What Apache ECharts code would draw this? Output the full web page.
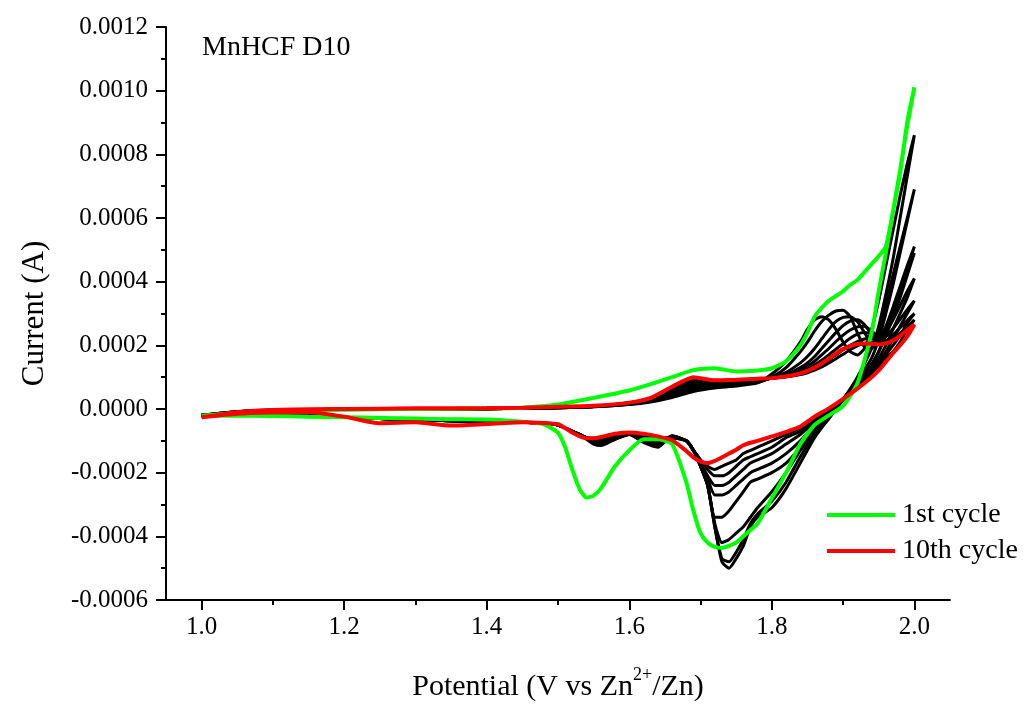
<!DOCTYPE html>
<html><head><meta charset="utf-8">
<script src="https://cdn.jsdelivr.net/npm/echarts@6/dist/echarts.min.js"></script>
<style>html,body{margin:0;padding:0;background:#fff}#c{width:1029px;height:707px}</style>
</head><body><div id="c"></div>
<script>
// Potential grids (V vs Zn2+/Zn)
const anodicV = [1.00,1.05,1.10,1.20,1.30,1.40,1.45,1.50,1.55,1.60,1.63,1.66,1.69,1.72,1.75,1.78,
  1.80,1.82,1.84,1.85,1.86,1.87,1.88,1.89,1.90,1.91,1.92,1.93,1.94,1.95,1.96,1.97,1.98,1.99,2.00];
const cathodicV = [2.00,1.99,1.98,1.97,1.96,1.95,1.94,1.92,1.90,1.88,1.86,1.84,1.82,1.80,1.78,1.77,1.76,1.75,1.74,1.73,
  1.72,1.71,1.70,1.69,1.68,1.66,1.64,1.62,1.60,1.58,1.56,1.55,1.54,1.53,1.52,1.51,1.50,1.48,1.45,1.40,1.35,1.30,1.25,1.20,1.15,1.10,1.05,1.00];

// 1st cycle (green)
const cycle1Anodic = [-0.000021,-0.000012,-0.000006,-0.000002,0.000000,0.000002,0.000004,0.000014,0.000035,0.000058,0.000078,0.000100,0.000122,0.000128,0.000118,0.000121,
  0.000128,0.000150,0.000200,0.000240,0.000290,0.000318,0.000340,0.000355,0.000370,0.000390,0.000405,0.000430,0.000455,0.000480,0.000510,0.000620,0.000740,0.000900,0.001010];
const cycle1Cathodic = [0.001010,0.000890,0.000750,0.000620,0.000490,0.000370,0.000240,0.000080,0.000010,-0.000020,-0.000050,-0.000110,-0.000200,-0.000280,-0.000360,-0.000380,-0.000400,-0.000420,-0.000430,-0.000436,
  -0.000433,-0.000420,-0.000390,-0.000320,-0.000230,-0.000110,-0.000095,-0.000095,-0.000130,-0.000180,-0.000250,-0.000272,-0.000278,-0.000250,-0.000190,-0.000120,-0.000075,-0.000048,-0.000040,-0.000033,-0.000032,-0.000030,-0.000028,-0.000026,-0.000024,-0.000022,-0.000021,-0.000021];

// 10th cycle (red)
const cycle10Anodic = [-0.000026,-0.000010,-0.000003,0.000000,0.000002,0.000003,0.000004,0.000007,0.000010,0.000020,0.000035,0.000070,0.000100,0.000090,0.000092,0.000095,
  0.000097,0.000102,0.000112,0.000120,0.000130,0.000143,0.000158,0.000175,0.000188,0.000198,0.000204,0.000206,0.000205,0.000203,0.000206,0.000215,0.000230,0.000248,0.000265];
const cycle10Cathodic = [0.000265,0.000228,0.000200,0.000175,0.000148,0.000121,0.000100,0.000064,0.000032,0.000002,-0.000024,-0.000055,-0.000072,-0.000086,-0.000100,-0.000106,-0.000114,-0.000128,-0.000140,-0.000152,
  -0.000163,-0.000170,-0.000165,-0.000152,-0.000132,-0.000098,-0.000086,-0.000078,-0.000074,-0.000078,-0.000088,-0.000092,-0.000092,-0.000085,-0.000074,-0.000060,-0.000048,-0.000044,-0.000042,-0.000047,-0.000052,-0.000042,-0.000045,-0.000024,-0.000010,-0.000011,-0.000015,-0.000026];

// cycles 2-9 (black)
const cycle2Anodic = [-0.000020,-0.000008,-0.000004,-0.000001,0.000000,0.000001,0.000002,0.000004,0.000007,0.000014,0.000022,0.000036,0.000055,0.000066,0.000072,0.000082,
  0.000110,0.000150,0.000210,0.000250,0.000280,0.000290,0.000280,0.000250,0.000210,0.000180,0.000170,0.000190,0.000250,0.000340,0.000450,0.000560,0.000670,0.000770,0.000860];
const cycle3Anodic = [-0.000020,-0.000009,-0.000004,-0.000001,0.000000,0.000001,0.000002,0.000004,0.000007,0.000015,0.000024,0.000040,0.000060,0.000069,0.000075,0.000084,
  0.000100,0.000130,0.000180,0.000210,0.000245,0.000275,0.000295,0.000308,0.000310,0.000290,0.000240,0.000195,0.000190,0.000240,0.000330,0.000420,0.000510,0.000600,0.000690];
const cycle4Anodic = [-0.000020,-0.000009,-0.000004,-0.000001,0.000000,0.000001,0.000002,0.000004,0.000008,0.000016,0.000026,0.000044,0.000066,0.000072,0.000078,0.000086,
  0.000098,0.000115,0.000145,0.000165,0.000190,0.000220,0.000250,0.000275,0.000288,0.000290,0.000275,0.000240,0.000210,0.000215,0.000260,0.000320,0.000385,0.000450,0.000510];
const cycle5Anodic = [-0.000021,-0.000009,-0.000004,-0.000001,0.000000,0.000001,0.000002,0.000004,0.000008,0.000017,0.000028,0.000048,0.000072,0.000075,0.000080,0.000087,
  0.000097,0.000108,0.000130,0.000145,0.000165,0.000190,0.000215,0.000240,0.000262,0.000276,0.000280,0.000265,0.000235,0.000220,0.000250,0.000305,0.000365,0.000430,0.000490];
const cycle6Anodic = [-0.000021,-0.000010,-0.000004,-0.000001,0.000000,0.000001,0.000002,0.000004,0.000008,0.000018,0.000030,0.000052,0.000078,0.000078,0.000082,0.000088,
  0.000097,0.000105,0.000122,0.000135,0.000150,0.000170,0.000190,0.000212,0.000232,0.000248,0.000258,0.000260,0.000245,0.000228,0.000240,0.000280,0.000325,0.000370,0.000410];
const cycle7Anodic = [-0.000022,-0.000010,-0.000004,-0.000001,0.000000,0.000001,0.000002,0.000005,0.000009,0.000018,0.000031,0.000056,0.000082,0.000080,0.000083,0.000089,
  0.000097,0.000103,0.000115,0.000125,0.000138,0.000153,0.000170,0.000188,0.000205,0.000222,0.000235,0.000240,0.000235,0.000222,0.000228,0.000252,0.000282,0.000312,0.000340];
const cycle8Anodic = [-0.000022,-0.000010,-0.000004,-0.000001,0.000000,0.000001,0.000002,0.000005,0.000009,0.000019,0.000033,0.000060,0.000086,0.000083,0.000085,0.000090,
  0.000097,0.000102,0.000110,0.000118,0.000128,0.000140,0.000155,0.000170,0.000186,0.000200,0.000212,0.000220,0.000222,0.000215,0.000215,0.000232,0.000255,0.000278,0.000300];
const cycle9Anodic = [-0.000023,-0.000010,-0.000004,-0.000001,0.000000,0.000001,0.000002,0.000005,0.000009,0.000020,0.000034,0.000064,0.000090,0.000086,0.000087,0.000092,
  0.000097,0.000101,0.000108,0.000114,0.000122,0.000132,0.000145,0.000158,0.000172,0.000186,0.000198,0.000206,0.000210,0.000208,0.000208,0.000220,0.000238,0.000258,0.000280];

// cathodic branches 2.00 -> 1.54 V
const cycle2Cathodic = [0.00086,0.00073,0.00060,0.00047,0.00036,0.00026,0.00019,0.00010,0.00003,-0.00003,-0.00009,-0.00017,-0.00025,-0.00031,-0.00034,-0.00037,-0.00043,-0.00047,-0.00050,-0.00048,
  -0.00037,-0.00024,-0.00018,-0.00013,-0.00010,-0.000085,-0.00012,-0.000105,-0.00008,-0.000095,-0.000115,-0.00011,-0.000095];
const cycle3Cathodic = [0.00069,0.00059,0.00049,0.00039,0.00030,0.00022,0.00016,0.00009,0.00003,-0.00003,-0.00008,-0.00015,-0.00023,-0.00029,-0.00033,-0.00036,-0.00041,-0.00045,-0.00048,-0.00047,
  -0.00037,-0.00024,-0.00018,-0.00013,-0.00010,-0.000085,-0.000118,-0.00010,-0.00008,-0.000095,-0.00011,-0.000105,-0.000092];
const cycle4Cathodic = [0.00051,0.00044,0.00037,0.00030,0.00024,0.00018,0.00014,0.00008,0.00003,-0.00002,-0.00007,-0.00013,-0.00020,-0.00026,-0.00031,-0.00034,-0.00037,-0.00039,-0.00041,-0.00042,
  -0.00036,-0.00024,-0.00018,-0.00013,-0.00010,-0.000085,-0.000112,-0.000095,-0.000078,-0.00009,-0.000105,-0.00010,-0.00009];
const cycle5Cathodic = [0.00049,0.00042,0.00035,0.00029,0.00023,0.00018,0.00014,0.00008,0.00003,-0.00002,-0.00006,-0.00012,-0.00017,-0.00020,-0.00022,-0.00023,-0.00026,-0.00029,-0.00032,-0.00034,
  -0.00034,-0.00024,-0.00018,-0.00013,-0.00010,-0.000085,-0.000105,-0.00009,-0.000077,-0.000088,-0.00010,-0.000098,-0.00009];
const cycle6Cathodic = [0.00041,0.00035,0.00030,0.00025,0.00020,0.00016,0.00013,0.000075,0.00003,-0.00001,-0.00005,-0.00010,-0.00014,-0.00017,-0.00019,-0.00020,-0.00022,-0.00024,-0.00026,-0.00027,
  -0.00027,-0.00022,-0.00017,-0.00013,-0.00010,-0.000088,-0.00010,-0.000088,-0.000076,-0.000085,-0.000097,-0.000096,-0.00009];
const cycle7Cathodic = [0.00034,0.00030,0.00026,0.00022,0.00018,0.00015,0.00012,0.00007,0.00003,-0.00001,-0.00004,-0.00008,-0.00011,-0.00014,-0.00016,-0.00017,-0.00019,-0.00021,-0.00023,-0.00024,
  -0.00024,-0.00021,-0.00017,-0.00013,-0.00010,-0.00009,-0.000096,-0.000085,-0.000075,-0.000082,-0.000095,-0.000094,-0.00009];
const cycle8Cathodic = [0.00030,0.00027,0.00023,0.00020,0.00017,0.00014,0.00011,0.00007,0.00003,-0.000005,-0.00003,-0.00007,-0.00009,-0.00012,-0.00014,-0.00015,-0.00016,-0.00018,-0.00020,-0.00021,
  -0.00021,-0.00019,-0.00016,-0.00013,-0.00010,-0.00009,-0.000093,-0.000082,-0.000075,-0.00008,-0.000092,-0.000093,-0.00009];
const cycle9Cathodic = [0.00028,0.00025,0.00021,0.00018,0.00016,0.00013,0.00011,0.00007,0.00003,0.00000,-0.00003,-0.00006,-0.00008,-0.00010,-0.00012,-0.00013,-0.00014,-0.00016,-0.00017,-0.00018,
  -0.00019,-0.00018,-0.00016,-0.00013,-0.00010,-0.00009,-0.00009,-0.00008,-0.000075,-0.000079,-0.00009,-0.000092,-0.00009];
// shared low-potential tail of the black cathodic branches, 1.53 -> 1.00 V
const blackCathodicTail = [-0.00008,-0.00007,-0.00006,-0.00005,-0.000045,-0.000042,-0.00004,-0.000037,-0.000034,-0.00003,-0.000026,-0.000021,-0.000018,-0.000016,-0.00002];

const xMajorTicks = [1.0,1.2,1.4,1.6,1.8,2.0];
const xMinorTicks = [1.1,1.3,1.5,1.7,1.9];
const legendNames = ['1st cycle','10th cycle'];

const FONT = '"Liberation Serif","Times New Roman",serif';

function loop(an, cat) {
  const pts = [];
  const n1 = Math.min(anodicV.length, an.length);
  for (let i = 0; i < n1; i++) pts.push([anodicV[i], an[i]]);
  const n2 = Math.min(cathodicV.length, cat.length);
  for (let i = 0; i < n2; i++) pts.push([cathodicV[i], cat[i]]);
  return pts;
}

const blackSets = [
  [cycle2Anodic, cycle2Cathodic], [cycle3Anodic, cycle3Cathodic], [cycle4Anodic, cycle4Cathodic],
  [cycle5Anodic, cycle5Cathodic], [cycle6Anodic, cycle6Cathodic], [cycle7Anodic, cycle7Cathodic],
  [cycle8Anodic, cycle8Cathodic], [cycle9Anodic, cycle9Cathodic]
];

const series = [];
blackSets.forEach((s, k) => {
  series.push({
    name: 'cycle ' + (k + 2), type: 'line', showSymbol: false, smooth: 0.2,
    data: loop(s[0], s[1].concat(blackCathodicTail)),
    lineStyle: {color: '#000', width: 3}, itemStyle: {color: '#000'}, z: 2
  });
});
series.push({name: legendNames[0], type: 'line', showSymbol: false, smooth: 0.2,
  data: loop(cycle1Anodic, cycle1Cathodic), lineStyle: {color: '#00ff00', width: 4}, itemStyle: {color: '#00ff00'}, z: 3});
series.push({name: legendNames[1], type: 'line', showSymbol: false, smooth: 0.2,
  data: loop(cycle10Anodic, cycle10Cathodic), lineStyle: {color: '#ff0000', width: 4}, itemStyle: {color: '#ff0000'}, z: 4});

const chart = echarts.init(document.getElementById('c'), null, {renderer: 'canvas'});
chart.setOption({
  animation: false,
  backgroundColor: '#fff',
  grid: {left: 166, right: 79, top: 27, bottom: 100},
  graphic: [{type: 'text', left: 202, top: 34, style: {text: 'MnHCF D10', font: '28px ' + FONT, fill: '#000'}}],
  legend: {
    data: legendNames, orient: 'vertical', left: 822, top: 496, icon: 'rect',
    itemWidth: 68, itemHeight: 4, itemGap: 8,
    textStyle: {fontFamily: FONT, fontSize: 28, color: '#000', padding: [0, 0, 0, 2]}
  },
  xAxis: [{
    type: 'value', min: 0.95, max: 2.05, position: 'bottom',
    axisLine: {show: true, onZero: false, lineStyle: {color: '#000', width: 2}},
    axisTick: {show: true, customValues: xMajorTicks, length: 10, lineStyle: {color: '#000', width: 2}},
    axisLabel: {show: true, customValues: xMajorTicks, formatter: v => v.toFixed(1), fontFamily: FONT, fontSize: 25, color: '#000', margin: 15},
    splitLine: {show: false},
    name: '{a|Potential (V vs Zn}{s|2+}{a|/Zn)}', nameLocation: 'middle', nameGap: 66,
    nameTextStyle: {fontFamily: FONT, fontSize: 30, color: '#000',
      rich: {a: {fontFamily: FONT, fontSize: 30, color: '#000', lineHeight: 36, verticalAlign: 'bottom'},
             s: {fontFamily: FONT, fontSize: 18, color: '#000', lineHeight: 18, verticalAlign: 'top'}}}
  }, {
    type: 'value', min: 0.95, max: 2.05, position: 'bottom',
    axisLine: {show: false, onZero: false},
    axisTick: {show: true, customValues: xMinorTicks, length: 5, lineStyle: {color: '#000', width: 2}},
    axisLabel: {show: false}, splitLine: {show: false}
  }],
  yAxis: {
    type: 'value', min: -0.0006, max: 0.0012, interval: 0.0002,
    axisLine: {show: true, onZero: false, lineStyle: {color: '#000', width: 2}},
    axisTick: {show: true, length: 10, lineStyle: {color: '#000', width: 2}},
    minorTick: {show: true, splitNumber: 2, length: 5, lineStyle: {color: '#000', width: 2}},
    axisLabel: {formatter: v => v.toFixed(4), fontFamily: FONT, fontSize: 25, color: '#000', margin: 18},
    splitLine: {show: false},
    name: 'Current (A)', nameLocation: 'middle', nameGap: 116,
    nameTextStyle: {fontFamily: FONT, fontSize: 31, color: '#000'}
  },
  series: series
});
</script></body></html>
